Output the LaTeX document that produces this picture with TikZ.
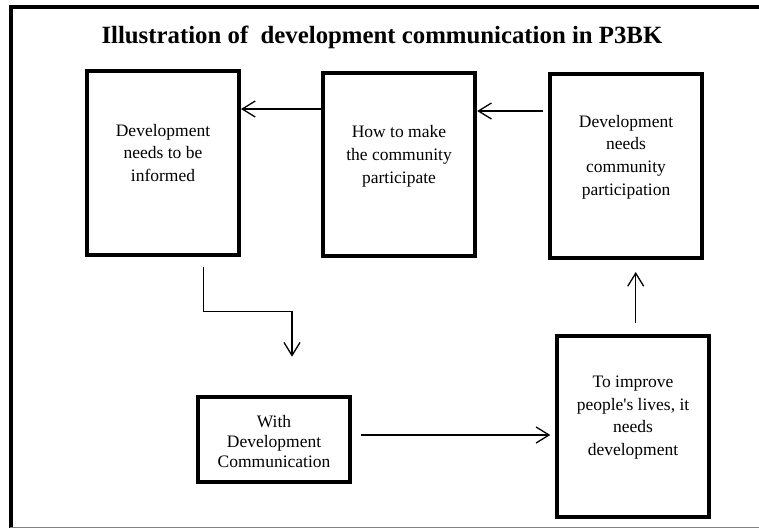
\documentclass[tikz,border=0pt]{standalone}
\usepackage{fontspec}
\setmainfont{Liberation Serif}
\usetikzlibrary{arrows.meta}
\begin{document}
\begin{tikzpicture}[x=1pt,y=-1pt,
  boxnode/.style={draw, line width=4pt, minimum width=152pt, inner sep=0pt},
  txt/.style={align=center, inner sep=0pt, font=\fontsize{17.5}{22.7}\selectfont},
  arr/.style={line width=1.3pt, -{Straight Barb[length=13pt,width=16pt]}},
  frame/.style={line width=4pt}
]
\useasboundingbox (0,0) rectangle (759,529);
% frame
\draw[frame] (10.5,5.2) -- (10.5,528);
\draw[line width=3.5pt] (8.5,7) -- (759,7);
\draw[gray, line width=1.2pt] (10,527.8) -- (759,527.8);
% title
\node[font=\bfseries\fontsize{24.8}{30}\selectfont, anchor=base, inner sep=0pt] (title) at (381.9,44) {Illustration of\ \ development communication in P3BK};
% boxes
\node[boxnode, minimum height=183.7pt] (b1) at (163,163.2) {};
\node[boxnode, minimum height=183pt] (b2) at (399.2,164.5) {};
\node[boxnode, minimum height=184pt] (b3) at (626.4,166) {};
\node[boxnode, minimum height=85pt] (b4) at (274,439.5) {};
\node[boxnode, minimum height=181.5pt] (b5) at (632.9,426.3) {};
% texts
\node[txt] (t1) at (163,153) {Development\\needs to be\\informed};
\node[txt] (t2) at (399,156.4) {How to make\\the community\\participate};
\node[txt] (t3) at (626,156.9) {Development\\needs\\community\\participation};
\node[txt, font=\fontsize{17.5}{20}\selectfont] (t4) at (274,441.7) {With\\Development\\Communication};
\node[txt] (t5) at (633,417.5) {To improve\\people\textquotesingle s lives, it\\needs\\development};
% helper coordinates
\coordinate (y109) at (0,109);
\coordinate (y111) at (0,111);
\coordinate (y435) at (0,435);
\coordinate (x636) at (635.7,0);
\coordinate (e0) at (203.3,266.7);
\coordinate (e1) at (292,311.7);
\coordinate (e2) at (292,356.7);
% connectors
\draw[arr, shorten <=-3pt] (b2.west |- y109) -- (b1.east |- y109);
\draw[arr, shorten <=5pt] (b3.west |- y111) -- (b2.east |- y111);
\draw[arr, shorten <=9.7pt] (b1.south -| e0) |- (e1) -- (e2);
\draw[arr, shorten <=9pt, shorten >=4.6pt] (b4.east |- y435) -- (b5.west |- y435);
\draw[arr, shorten <=10.5pt, shorten >=12pt] (b5.north -| x636) -- (b3.south -| x636);
\end{tikzpicture}
\end{document}
